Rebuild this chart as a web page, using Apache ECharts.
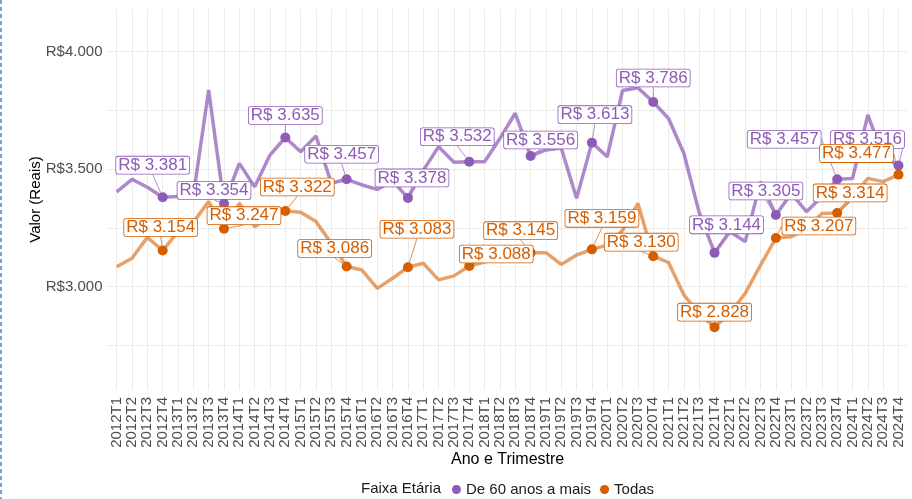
<!DOCTYPE html>
<html><head><meta charset="utf-8">
<script src="https://cdn.jsdelivr.net/npm/echarts@6/dist/echarts.min.js"></script>
<style>html,body{margin:0;padding:0;background:#fff}#c{width:912px;height:499px}</style>
</head><body><div id="c"></div>
<script>
const categories = [
 '2012T1','2012T2','2012T3','2012T4','2013T1','2013T2','2013T3','2013T4',
 '2014T1','2014T2','2014T3','2014T4','2015T1','2015T2','2015T3','2015T4',
 '2016T1','2016T2','2016T3','2016T4','2017T1','2017T2','2017T3','2017T4',
 '2018T1','2018T2','2018T3','2018T4','2019T1','2019T2','2019T3','2019T4',
 '2020T1','2020T2','2020T3','2020T4','2021T1','2021T2','2021T3','2021T4',
 '2022T1','2022T2','2022T3','2022T4','2023T1','2023T2','2023T3','2023T4',
 '2024T1','2024T2','2024T3','2024T4'];
const idosos = [
 3404,3457,3423,3381,3384,3387,3837,3354,
 3525,3425,3560,3635,3574,3641,3440,3457,
 3433,3414,3450,3378,3495,3596,3530,3532,
 3532,3631,3738,3556,3582,3590,3376,3613,
 3553,3835,3847,3786,3716,3567,3315,3144,
 3234,3192,3447,3305,3397,3319,3383,3457,
 3460,3731,3553,3516];
const todas = [
 3085,3121,3210,3154,3234,3275,3362,3247,
 3355,3255,3298,3322,3317,3277,3185,3086,
 3071,2993,3036,3083,3100,3029,3046,3088,
 3105,3125,3150,3145,3145,3095,3135,3159,
 3177,3240,3355,3130,3103,2965,2885,2828,
 2887,2972,3092,3207,3213,3245,3312,3314,
 3383,3461,3447,3477];
const yTickLabels = [3000, 3500, 4000];
const yGridValues = [2750, 3000, 3250, 3500, 3750, 4000];
const seriesNames = ['De 60 anos a mais', 'Todas'];

// label placement (pixel offsets of label centre from its point), styling only
const offsIdosos = [[-10,-32],[-10,-13],[0,-22],[-5,-25],[4,-20],[-12,-25],[10,-16],[3,-28],[0,-24],[12,-28],[-10,-24],[-53,-40],[-31,-26]];
const offsTodas  = [[-2,-23],[20,-13],[12,-24],[-12,-18],[9,-38],[27,-12],[-10,-22],[10,-31],[-12,-14],[0,-15],[43,-12],[13,-20],[-42,-21]];

const purple = '#8E5BB7', orange = '#D55E00';
const FONT = 'Liberation Sans, Arial, Helvetica, sans-serif';

function fmt(v){ v = Math.round(v); return Math.floor(v/1000) + '.' + String(v%1000).padStart(3,'0'); }
function lineData(arr){ return arr.map((v,i)=>[i,v]); }
function pointData(arr){ return arr.map((v,i)=>[i,v]).filter(d=>d[0]%4===3); }
const xIdx = categories.map((c,i)=>i);

function pointSeries(name, arr, color, offs){
  return {
    type:'scatter', name:name, data:pointData(arr), symbolSize:10, z:5,
    itemStyle:{color:color, opacity:1},
    label:{show:true, position:'inside', formatter:p=>'R$ '+fmt(p.value[1]),
      color:color, backgroundColor:'#fff', borderColor:color, borderWidth:0.8,
      borderRadius:2, padding:[1,2,0,2], fontSize:17, fontFamily:FONT, lineHeight:16},
    labelLine:{show:true, lineStyle:{color:color, width:0.7}},
    labelLayout:p=>({dx:offs[p.dataIndex][0], dy:offs[p.dataIndex][1]})
  };
}

const chart = echarts.init(document.getElementById('c'), null, {renderer:'canvas'});
chart.setOption({
  animation:false,
  backgroundColor:'#fff',
  textStyle:{fontFamily:FONT},
  grid:{left:107.5, right:4.3, top:9, bottom:109},
  xAxis:{type:'value', min:-0.6, max:51.6,
    name:'Ano e Trimestre', nameLocation:'middle', nameGap:62, nameMoveOverlap:false,
    nameTextStyle:{fontSize:16, color:'#000', fontFamily:FONT},
    axisLine:{show:false}, axisTick:{show:false, customValues:xIdx},
    axisLabel:{customValues:xIdx, rotate:90, margin:7, fontSize:15, color:'#4d4d4d', fontFamily:FONT,
      formatter:v=>categories[v]},
    splitLine:{show:true, lineStyle:{color:'#ebebeb', width:1}}},
  yAxis:{type:'value', min:2560.5, max:4181.7,
    name:'Valor (Reais)', nameLocation:'middle', nameGap:64, nameMoveOverlap:false,
    nameTextStyle:{fontSize:15, color:'#000', fontFamily:FONT},
    axisLine:{show:false}, axisTick:{show:false, customValues:yGridValues},
    axisLabel:{customValues:yTickLabels, margin:5, fontSize:15, color:'#4d4d4d', fontFamily:FONT,
      formatter:v=>'R$'+fmt(v)},
    splitLine:{show:true, lineStyle:{color:'#ebebeb', width:1}}},
  legend:{left:447, top:477, itemWidth:9, itemHeight:9, itemGap:9,
    data:[{name:seriesNames[0], icon:'circle'},{name:seriesNames[1], icon:'circle'}],
    textStyle:{fontSize:15, color:'#1a1a1a', fontFamily:FONT}},
  graphic:[
    {type:'text', left:361, top:481, style:{text:'Faixa Etária', fontSize:15, fill:'#1a1a1a', font:'15px '+FONT}},
    {type:'line', shape:{x1:1,y1:0,x2:1,y2:499}, style:{stroke:'#7f9fdc', lineWidth:2, lineDash:[4,3]}}
  ],
  series:[
    {type:'line', name:seriesNames[0], data:lineData(idosos), symbol:'none', z:2, silent:true,
      itemStyle:{color:purple}, lineStyle:{color:'rgba(142,91,183,0.72)', width:3.5}},
    {type:'line', name:seriesNames[1], data:lineData(todas), symbol:'none', z:2, silent:true,
      itemStyle:{color:orange}, lineStyle:{color:'rgba(213,94,0,0.58)', width:3.5}},
    pointSeries(seriesNames[0], idosos, purple, offsIdosos),
    pointSeries(seriesNames[1], todas, orange, offsTodas)
  ]
});
</script></body></html>
